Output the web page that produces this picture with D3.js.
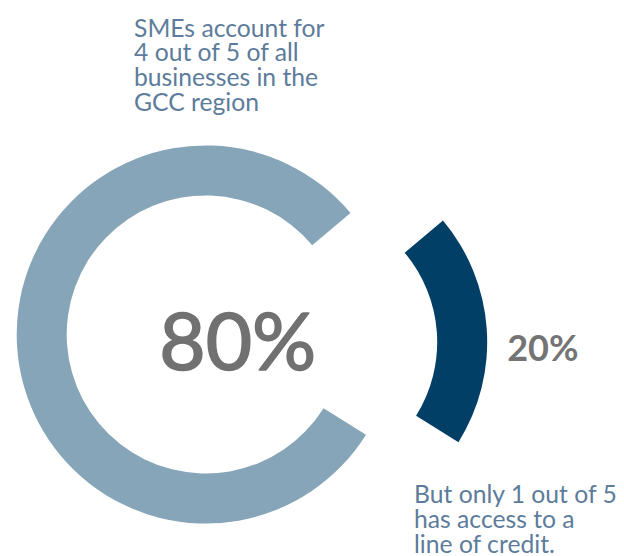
<!DOCTYPE html>
<html>
<head>
<meta charset="utf-8">
<script src="https://cdn.jsdelivr.net/npm/d3@7/dist/d3.min.js"></script>
<style>
  html, body { margin: 0; padding: 0; background: #ffffff; }
  svg { display: block; }
</style>
</head>
<body>
<script>
// ---- data ----
const categories = ["All SMEs", "SMEs with a line of credit"];
const values = [80, 20];
const valueLabels = ["80%", "20%"];
const topNote = ["SMEs account for", "4 out of 5 of all", "businesses in the", "GCC region"];
const bottomNote = ["But only 1 out of 5", "has access to a", "line of credit."];
const colors = ["#86a5b9", "#023f66"];

// ---- layout ----
const W = 624, H = 556;
const cx = 205.7, cy = 334.5;
const outerR = 189, innerR = 139;
const deg = Math.PI / 180;
const startA = 122 * deg;
const explode = [92.5, 7.5];

const svg = d3.select("body").append("svg")
  .attr("width", W).attr("height", H)
  .style("font-family", "Lato, 'Open Sans', sans-serif");

const pie = d3.pie().sort(null).value(d => d)
  .startAngle(startA).endAngle(startA + 2 * Math.PI);
const arcs = pie(values);
const arc = d3.arc().innerRadius(innerR).outerRadius(outerR);

const g = svg.append("g").attr("transform", `translate(${cx},${cy})`);

g.selectAll("path.slice").data(arcs).enter().append("path")
  .attr("class", "slice")
  .attr("d", arc)
  .attr("fill", (d, i) => colors[i])
  .attr("transform", (d, i) => i === 1 ? `translate(${explode[0]},${explode[1]})` : null)
  .append("title").text((d, i) => `${categories[i]}: ${valueLabels[i]}`);

// big centre label
g.append("text")
  .attr("x", 32).attr("y", 35.5)
  .attr("text-anchor", "middle")
  .attr("font-size", 80)
  .attr("font-weight", 400)
  .attr("fill", "#717171")
  .attr("stroke", "#717171")
  .attr("stroke-width", 1.6)
  .attr("stroke-linejoin", "round")
  .text(valueLabels[0]);

// label of exploded slice
g.append("text")
  .attr("x", 301.5).attr("y", 26.2)
  .attr("font-size", 36)
  .attr("font-weight", 700)
  .attr("fill", "#747474")
  .text(valueLabels[1]);

// annotations
const noteColor = "#5d7c9b";
const lh = 24.6;
const fs = 24.7;
svg.append("text")
  .attr("x", 134).attr("y", 36.7)
  .attr("font-size", fs)
  .attr("fill", noteColor)
  .selectAll("tspan").data(topNote).enter().append("tspan")
  .attr("x", 134).attr("dy", (d, i) => i === 0 ? 0 : lh)
  .text(d => d);

svg.append("text")
  .attr("x", 414).attr("y", 503.3)
  .attr("font-size", fs)
  .attr("fill", noteColor)
  .selectAll("tspan").data(bottomNote).enter().append("tspan")
  .attr("x", 414).attr("dy", (d, i) => i === 0 ? 0 : lh)
  .text(d => d);
</script>
</body>
</html>
